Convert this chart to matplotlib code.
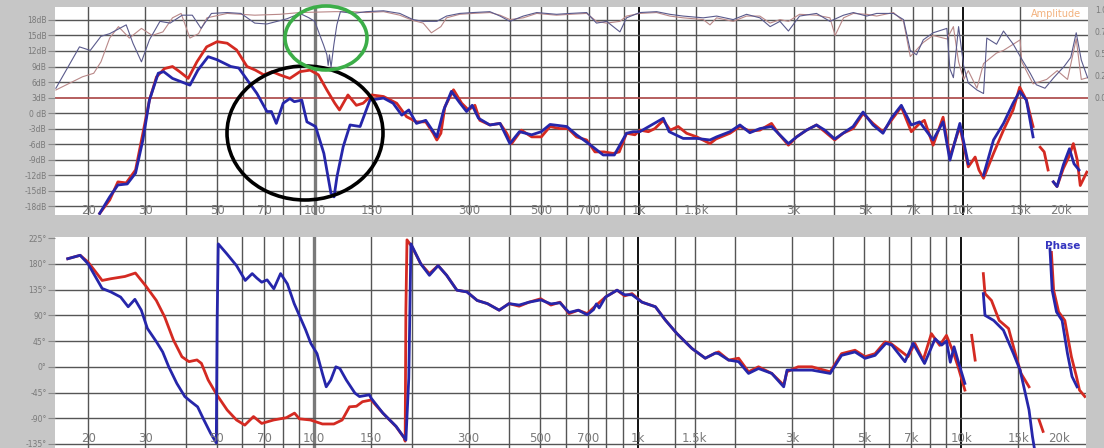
import numpy as np
import matplotlib.pyplot as plt
from matplotlib.patches import Ellipse

nan = np.nan

# magnitude traces (Hz, dB), nan = gap in the trace
mag_red = [(21.7, -19.4), (23.3, -16.8), (24.7, -13.3), (26.2, -13.5), (28.0, -11.0), (29.5, -3.9),
           (30.9, 2.5), (32.5, 7.0), (34.4, 8.6), (36.4, 9.0), (38.3, 8.0), (40.7, 6.7), (43.3, 9.9),
           (46.4, 12.8), (50.0, 13.8), (53.7, 13.5), (57.4, 12.2), (61.8, 9.0), (65.6, 8.3), (69.6, 7.4),
           (73.9, 8.0), (77.9, 7.4), (83.8, 6.7), (90, 8.0), (96.8, 8.3), (102.6, 7.4), (108.9, 4.5),
           (115.3, 1.9), (119.2, 0.6), (126.6, 3.5), (134.4, 1.5), (141, 1.9), (150, 3.5), (163, 3.2),
           (179, 1.9), (192, -0.7), (206, -1.7), (220, -1.7), (232, -3.9), (238, -5.2), (245, -3.9),
           (252, 1.2), (268, 4.5), (284, 1.9), (298, 0.6), (312, 1.5), (323, -1.4), (347, -2.3),
           (373, -2.0), (391, -3.9), (405, -5.9), (434, -3.3), (467, -4.6), (500, -4.6), (532, -2.6),
           (570, -3.0), (605, -3.0), (642, -4.6), (690, -5.2), (732, -7.5), (780, -7.5), (833, -7.8),
           (870, -7.5), (916, -3.9), (972, -4.2), (1007, -3.3), (1070, -3.6), (1120, -3.0), (1189, -1.4),
           (1250, -3.3), (1322, -2.6), (1403, -3.9), (1508, -4.6), (1657, -5.9), (1730, -5.0),
           (1910, -3.9), (2050, -2.6), (2200, -3.5), (2362, -3.3), (2566, -2.0), (2690, -3.9),
           (2893, -6.2), (3067, -4.6), (3290, -3.3), (3532, -2.3), (3747, -3.6), (4020, -5.2),
           (4265, -3.9), (4580, -3.0), (4916, -0.1), (5276, -2.0), (5663, -3.6), (6011, -1.4),
           (6452, 1.2), (6925, -3.6), (7348, -2.0), (7600, -1.4), (8086, -6.2), (8680, -0.8),
           (9110, -8.5), (9779, -2.6), (10380, -10.4), (10900, -8.5), (11200, -11.0), (11570, -12.6),
           (12420, -7.8), (13330, -3.3), (14270, 0.6), (14960, 5.0), (15690, 2.5), (16450, -2.6),
           (16800, nan), (17300, -6.6), (17800, -7.5), (18300, -11.0), (18600, nan),
           (19000, -13.3), (19500, -14.2), (20400, -10.7), (21200, -8.5), (21900, -5.9),
           (22500, -9.0), (23000, -14.0), (24100, -11.4)]

mag_blue = [(21.7, -19.4), (23.3, -16.2), (24.7, -13.9), (26.4, -13.7), (28.0, -11.6), (29.5, -5.2),
            (30.9, 2.5), (32.9, 7.7), (34.2, 8.0), (36.4, 6.7), (41.2, 5.4), (43.6, 8.3), (46.9, 10.9),
            (50, 10.3), (55.1, 9.0), (58.3, 8.7), (62.4, 6.1), (66.3, 3.8), (71.2, 0.3), (73.5, 0.3),
            (76.1, -2.0), (79.9, 1.9), (83.8, 2.8), (86.5, 2.2), (91.2, 2.5), (94.6, -1.7),
            (100.6, -2.6), (106.7, -7.8), (112.2, -15.5), (114.7, -16.2), (117.1, -12.3),
            (122.4, -6.5), (128.5, -2.3), (138, -2.6), (148, 2.5), (163, 2.9), (174.5, 1.9),
            (185.6, -0.4), (195, 0.6), (206, -2.0), (220, -1.4), (238, -4.6), (250, 0.6), (264, 4.2),
            (280, 2.0), (294, 0.3), (306, 1.5), (320, -1.0), (347, -2.3), (373, -2.0), (400, -5.9),
            (428, -3.6), (467, -4.2), (500, -3.6), (532, -2.2), (599, -2.6), (642, -4.2), (700, -5.9),
            (776, -8.1), (840, -8.1), (916, -3.9), (960, -3.6), (1007, -3.6), (1189, -1.0),
            (1240, -3.6), (1370, -4.9), (1508, -4.9), (1657, -5.2), (1737, -4.6), (1910, -3.6),
            (2050, -2.3), (2200, -3.8), (2362, -3.0), (2566, -2.6), (2893, -5.9), (3067, -4.6),
            (3290, -3.3), (3532, -2.3), (3747, -3.3), (4020, -5.0), (4265, -3.9), (4580, -2.6),
            (4916, 0.2), (5276, -2.3), (5663, -3.9), (6011, -1.0), (6452, 1.5), (6925, -2.3),
            (7348, -1.7), (8086, -5.2), (8680, -1.7), (9110, -9.1), (9779, -2.0), (10380, -9.8),
            (11000, nan), (11570, -12.0), (12420, -5.2), (13330, -2.0), (14270, 1.9), (14960, 4.2),
            (15690, 2.5), (16450, -4.6), (17500, nan), (19000, -13.3), (19500, -14.2),
            (20400, -10.0), (21300, -6.9), (22000, -9.8), (22800, -11.0)]

# coherence traces (Hz, 0..1)
coh_blue = [(15.9, 0.10), (18.8, 0.57), (20.3, 0.53), (21.9, 0.69), (23.3, 0.72), (26.2, 0.82),
            (27.5, 0.61), (29.2, 0.40), (30.9, 0.65), (33.3, 0.86), (35.8, 0.84), (39.0, 0.93),
            (41.9, 0.93), (44.6, 0.78), (48.0, 0.95), (53.7, 0.96), (59.2, 0.95), (65.3, 0.84),
            (71.2, 0.83), (78.4, 0.87), (82.2, 0.89), (90, 0.95), (96, 0.90), (100, 0.86), (104, 0.69),
            (106.5, 0.59), (109, 0.48), (110, 0.36), (111, 0.48), (112.3, 0.34), (114.5, 0.59),
            (117, 0.82), (120, 0.97), (131.5, 0.95), (144, 0.97), (163, 0.98), (183, 0.95), (201, 0.88),
            (216, 0.86), (238, 0.86), (255, 0.92), (280, 0.95), (308, 0.96), (347, 0.97), (373, 0.92),
            (400, 0.86), (440, 0.92), (484, 0.96), (557, 0.94), (613, 0.95), (690, 0.96), (740, 0.84),
            (795, 0.86), (874, 0.74), (916, 0.90), (1007, 0.96), (1134, 0.97), (1246, 0.94),
            (1370, 0.92), (1580, 0.90), (1737, 0.92), (1954, 0.88), (2148, 0.94), (2362, 0.90),
            (2540, 0.80), (2724, 0.86), (2893, 0.75), (3131, 0.92), (3532, 0.95), (3886, 0.86),
            (4280, 0.93), (4590, 0.96), (5043, 0.92), (5414, 0.95), (6100, 0.95), (6552, 0.88),
            (6875, 0.53), (7186, 0.48), (7540, 0.65), (8086, 0.73), (8917, 0.78), (9110, 0.32),
            (9340, 0.22), (9690, 0.80), (10050, 0.35), (10380, 0.16), (11040, 0.08), (11570, 0.04),
            (11840, 0.67), (12690, 0.60), (13330, 0.75), (14290, 0.60), (15180, 0.43), (16120, 0.27),
            (16830, 0.14), (17900, 0.10), (19050, 0.22), (20530, 0.35), (21500, 0.45), (22350, 0.73),
            (23170, 0.42), (24230, 0.22)]

coh_red = [(15.9, 0.08), (19.2, 0.23), (20.8, 0.27), (21.9, 0.40), (23.3, 0.67), (24.8, 0.80),
           (26.8, 0.67), (29.2, 0.78), (31.5, 0.70), (34, 0.74), (36.4, 0.90), (38.7, 0.95),
           (41.2, 0.67), (43.8, 0.72), (46.5, 0.90), (53.7, 0.95), (65.3, 0.93), (78, 0.94), (90, 0.96),
           (115, 0.97), (131, 0.97), (144, 0.96), (163, 0.97), (183, 0.93), (201, 0.87), (216, 0.84),
           (229, 0.73), (245, 0.80), (255, 0.90), (280, 0.94), (308, 0.95), (347, 0.96), (373, 0.93),
           (400, 0.88), (440, 0.90), (484, 0.95), (557, 0.93), (613, 0.94), (690, 0.95), (740, 0.86),
           (795, 0.84), (874, 0.86), (916, 0.92), (1007, 0.95), (1134, 0.96), (1246, 0.92),
           (1370, 0.90), (1580, 0.88), (1657, 0.82), (1737, 0.90), (1954, 0.86), (2148, 0.92),
           (2362, 0.92), (2540, 0.84), (2724, 0.88), (2893, 0.86), (3131, 0.94), (3532, 0.93),
           (3886, 0.90), (4031, 0.70), (4280, 0.90), (4590, 0.95), (5043, 0.94), (5414, 0.92),
           (6100, 0.96), (6552, 0.86), (6875, 0.46), (7540, 0.62), (8086, 0.70), (8917, 0.66),
           (9340, 0.80), (9690, 0.40), (10050, 0.20), (10380, 0.30), (11040, 0.10), (11570, 0.38),
           (12690, 0.50), (13330, 0.53), (14290, 0.60), (15000, 0.65), (15180, 0.40), (16450, 0.15),
           (18110, 0.20), (19530, 0.30), (21010, 0.20), (22350, 0.66), (23170, 0.20), (24230, 0.22)]

# phase traces (Hz, degrees)
ph_red = [(17.3, 189), (18.9, 195), (20.0, 183), (21.3, 163), (22.1, 151), (23.5, 154), (26.0, 158),
          (28.0, 164), (30.1, 142), (32.5, 116), (34.5, 87), (36.7, 47), (39.0, 17.5), (41.0, 9),
          (43.4, 12), (44.8, 6), (47, -23), (50, -49), (53.8, -75.5), (57.5, -93), (61, -102),
          (64.9, -87), (68.8, -99), (74.9, -93), (82, -89), (86.9, -81), (90, -91), (97.3, -93),
          (106, -100), (115, -100), (122, -93), (128.5, -70), (135, -69), (141, -61), (150, -58),
          (163, -81), (179, -104.5), (190, -125), (191, -130), (192, 100), (193.5, 222), (201, 209),
          (213.5, 180), (227, 163), (241.5, 177), (256.6, 160), (276, 134), (296.5, 131), (319, 116),
          (343, 110.5), (373, 99), (400, 110.5), (430, 106), (461, 113), (501.5, 119), (539, 108),
          (575, 113), (613, 93), (655, 99), (698, 93), (745, 108), (795, 122), (863, 134), (910, 124),
          (960, 128), (1031, 113), (1134, 105), (1218, 81.5), (1322, 58), (1471, 32), (1617, 15),
          (1737, 24), (1778, 26), (1910, 11.7), (2050, 15), (2200, -8.7), (2362, 0), (2596, -11.6),
          (2826, -32), (2893, -8.7), (3131, 0), (3454, 0), (3934, -8.7), (4265, 23), (4694, 29),
          (5043, 17.7), (5414, 23), (5813, 43.6), (6050, 41), (6452, 29), (6846, 17.7), (7186, 41),
          (7625, 11.7), (8086, 58), (8580, 37.5), (9000, 55), (9440, 26), (9780, 0), (10260, -40.7),
          (10500, nan), (10770, 55), (11040, 11.7), (11300, nan), (11700, 163), (11840, 128),
          (12400, 116), (13100, 81), (14000, 67), (14700, 23), (15300, -11.6), (16200, -35),
          (16800, nan), (17400, -93), (17900, -113), (18400, nan), (19000, 200), (19300, 134),
          (20000, 96), (20900, 81), (21900, 17.7), (22700, -17), (23200, -40.7), (24100, -52)]

ph_blue = [(17.3, 189), (18.9, 195), (20.0, 180), (21.1, 157), (22.1, 137), (23.5, 131), (25.2, 122),
           (26.6, 105), (27.9, 118), (29.2, 99), (30.5, 67), (32.5, 44), (34, 26), (35.5, 0),
           (37.6, -29), (39.8, -52), (41.6, -61), (43.6, -70), (45.6, -93), (47.8, -116), (49.8, -133),
           (50.1, 80), (50.5, 215), (53.6, 198), (57.5, 177), (61.2, 151), (64.3, 163), (66.5, 155),
           (68.8, 148), (71.5, 152), (75, 136.5), (78.7, 163), (82.6, 145), (86.7, 110.5), (90.9, 84),
           (94, 65), (97.6, 41), (102, 23), (106, -12), (108.9, -35), (112.5, -23), (116.6, 0),
           (120, -3), (125.6, -23), (133.6, -46), (138, -52), (148, -49), (150, -55), (163, -81),
           (179, -104), (192, -128), (196, -20), (199, 215), (213.5, 180), (227, 160), (241.5, 177),
           (256.6, 160), (276, 134), (296.5, 131), (319, 116), (343, 110.5), (373, 99), (400, 110.5),
           (430, 108), (461, 113), (501.5, 117), (539, 110), (575, 112), (613, 95), (655, 99),
           (698, 91), (730, 100), (745, 110), (760, 103), (795, 122), (863, 134), (910, 126),
           (960, 126), (1031, 113), (1134, 105), (1218, 81.5), (1322, 58), (1471, 32), (1617, 15),
           (1737, 24), (1778, 23), (1910, 11.7), (2050, 9), (2200, -11.6), (2362, -3), (2596, -11.6),
           (2826, -35), (2893, -5.8), (3131, -5.8), (3454, -5.8), (3934, -11.6), (4265, 20),
           (4694, 26), (5043, 14.8), (5414, 20), (5850, 41), (6100, 38), (6700, 8.9), (7100, 41),
           (7700, 5.8), (8300, 49), (8700, 38), (9000, 45), (9250, 8), (9500, 35), (9780, 10),
           (10260, -29), (10800, nan), (11700, 128), (11840, 90), (12600, 81), (13500, 64),
           (14500, 23), (15200, -5.8), (16200, -75.5), (16600, -122), (16800, -140), (17500, nan),
           (18800, 206.5), (19100, 134), (19700, 96), (20500, 81), (21300, 23), (22000, -17),
           (22800, -35)]

db_ticks = [18, 15, 12, 9, 6, 3, 0, -3, -6, -9, -12, -15, -18]
db_labels = ['18dB', '15dB', '12dB', '9dB', '6dB', '3dB', '0 dB', '-3dB', '-6dB', '-9dB',
             '-12dB', '-15dB', '-18dB']
deg_ticks = [225, 180, 135, 90, 45, 0, -45, -90, -135]
coh_ticks = [1.0, 0.75, 0.5, 0.25, 0.0]
freq_labels = {20: '20', 30: '30', 50: '50', 70: '70', 100: '100', 150: '150', 300: '300',
               500: '500', 700: '700', 1000: '1k', 1500: '1.5k', 3000: '3k', 5000: '5k',
               7000: '7k', 10000: '10k', 15000: '15k', 20000: '20k'}
grid_freqs = [20, 30, 40, 50, 60, 70, 80, 90, 100, 150, 200, 300, 400, 500, 600, 700, 800, 900,
              1000, 1300, 1500, 2000, 3000, 4000, 5000, 6000, 7000, 8000, 9000, 10000, 15000]

RED = '#d42a22'
BLUE = '#2626aa'
GRID = '#555555'
LBL = '#7a7a7a'

W, H = 1104, 448
fig = plt.figure(figsize=(W / 100, H / 100), dpi=100, facecolor='#c6c6c6')

ax1 = fig.add_axes([55 / W, 1 - 215 / H, 1033 / W, 208 / H])
ax2 = fig.add_axes([55 / W, 0, 1031 / W, 211 / H])


def freq_grid(ax):
    for f in grid_freqs:
        if f in (1000, 10000):
            ax.axvline(f, color='#101010', lw=1.4, zorder=1)
        elif f == 100:
            ax.axvline(f, color='#7a7a7a', lw=2.4, zorder=1)
        else:
            ax.axvline(f, color=GRID, lw=1.0, zorder=1)


def freq_text(ax, ypos):
    for f, s in freq_labels.items():
        ax.text(f, ypos, s, transform=ax.get_xaxis_transform(), ha='center', va='center',
                fontsize=8.5, color=LBL, zorder=6)


for ax in (ax1, ax2):
    ax.set_facecolor('white')
    ax.set_xscale('log')
    ax.set_xlim(15.8, 24300)
    ax.set_xticks([])
    ax.minorticks_off()
    for s in ax.spines.values():
        s.set_visible(False)
    freq_grid(ax)

# --- amplitude panel ---
ax1.set_ylim(-19.7, 20.5)
ax1.set_yticks(db_ticks)
ax1.set_yticklabels(db_labels)
ax1.tick_params(axis='y', labelsize=5.5, labelcolor=LBL, color='#8a8a8a', length=5, pad=1)
for v in db_ticks:
    if v == 3:
        ax1.axhline(v, color='#b05252', lw=1.3, zorder=1)
    else:
        ax1.axhline(v, color=GRID, lw=1.0, zorder=1)

fr, dr = np.array(mag_red).T
fb, dbb = np.array(mag_blue).T
ax1.plot(fr, dr, color=RED, lw=2.0, zorder=3)
ax1.plot(fb, dbb, color=BLUE, lw=2.0, zorder=4)
freq_text(ax1, 0.024)
ax1.text(0.993, 0.965, 'Amplitude', transform=ax1.transAxes, ha='right', va='center',
         fontsize=7, color='#f2b27e', zorder=6)

# coherence on its own scale: 0 sits on the 3 dB line, 1 at the top
axc = ax1.twinx()
axc.set_ylim(-1.34, 1.023)
axc.set_yticks(coh_ticks)
axc.set_yticklabels(['1.0', '0.75', '0.5', '0.25', '0.0'])
axc.tick_params(axis='y', labelsize=5.5, labelcolor=LBL, length=0, pad=5)
for s in axc.spines.values():
    s.set_visible(False)
cf, cv = np.array(coh_red).T
axc.plot(cf, cv, color='#b98888', lw=0.8, zorder=2)
cf, cv = np.array(coh_blue).T
axc.plot(cf, cv, color='#5a5a8c', lw=0.8, zorder=2)

# --- phase panel ---
ax2.set_ylim(-142, 227)
ax2.set_yticks(deg_ticks)
ax2.set_yticklabels([f'{d}°' for d in deg_ticks])
ax2.tick_params(axis='y', labelsize=5.5, labelcolor=LBL, color='#8a8a8a', length=5, pad=1)
for v in deg_ticks[1:]:
    ax2.axhline(v, color=GRID, lw=1.0, zorder=1)

pf, pv = np.array(ph_red).T
ax2.plot(pf, pv, color=RED, lw=2.0, zorder=3)
pf, pv = np.array(ph_blue).T
ax2.plot(pf, pv, color=BLUE, lw=2.0, zorder=4)
freq_text(ax2, 0.043)
ax2.text(0.995, 0.955, 'Phase', transform=ax2.transAxes, ha='right', va='center',
         fontsize=7.5, fontweight='bold', color='#3535c0', zorder=6)

# hand drawn markings around the low-frequency notch
fig.patches.append(Ellipse((305 / W, 1 - 133 / H), 156 / W, 134 / H, transform=fig.transFigure,
                           fill=False, ec='black', lw=2.6, zorder=10))
fig.patches.append(Ellipse((326 / W, 1 - 38 / H), 82 / W, 64 / H, transform=fig.transFigure,
                           fill=False, ec='#3cae48', lw=2.6, zorder=10))

plt.savefig('out.png', dpi=100, facecolor=fig.get_facecolor())
plt.close()
